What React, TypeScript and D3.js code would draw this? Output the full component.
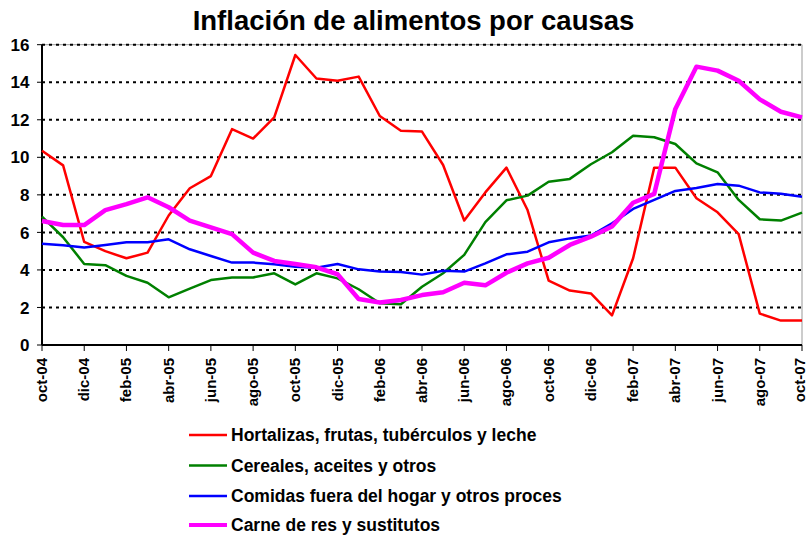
import React from "react";
import * as d3 from "d3";

const months = [
  "oct-04","nov-04","dic-04","ene-05","feb-05","mar-05","abr-05","may-05","jun-05","jul-05","ago-05","sep-05",
  "oct-05","nov-05","dic-05","ene-06","feb-06","mar-06","abr-06","may-06","jun-06","jul-06","ago-06","sep-06",
  "oct-06","nov-06","dic-06","ene-07","feb-07","mar-07","abr-07","may-07","jun-07","jul-07","ago-07","sep-07","oct-07",
];

const hortalizas = [
  10.35, 9.57, 5.49, 5.0, 4.62, 4.92, 6.9, 8.35, 9.0, 11.5, 11.0, 12.13,
  15.45, 14.2, 14.08, 14.3, 12.2, 11.42, 11.37, 9.59, 6.63, 8.13, 9.45, 7.19,
  3.43, 2.9, 2.75, 1.58, 4.62, 9.45, 9.45, 7.82, 7.07, 5.91, 1.67, 1.3, 1.3,
];
const cereales = [
  6.84, 5.74, 4.32, 4.25, 3.68, 3.32, 2.54, 3.0, 3.46, 3.6, 3.6, 3.82,
  3.23, 3.82, 3.55, 2.97, 2.22, 2.17, 3.1, 3.82, 4.8, 6.55, 7.71, 7.96,
  8.7, 8.85, 9.63, 10.27, 11.15, 11.07, 10.71, 9.68, 9.2, 7.73, 6.7, 6.63, 7.05,
];
const comidas = [
  5.4, 5.31, 5.19, 5.33, 5.47, 5.47, 5.63, 5.1, 4.74, 4.39, 4.39, 4.3,
  4.17, 4.12, 4.32, 4.03, 3.91, 3.89, 3.75, 3.96, 3.91, 4.35, 4.83, 4.97,
  5.47, 5.68, 5.83, 6.48, 7.25, 7.73, 8.21, 8.37, 8.58, 8.49, 8.13, 8.06, 7.9,
];
const carne = [
  6.61, 6.39, 6.39, 7.19, 7.51, 7.87, 7.34, 6.63, 6.27, 5.91, 4.92, 4.48,
  4.32, 4.14, 3.77, 2.45, 2.26, 2.4, 2.66, 2.81, 3.32, 3.18, 3.85, 4.35,
  4.65, 5.33, 5.77, 6.31, 7.58, 8.05, 12.58, 14.83, 14.62, 14.08, 13.09, 12.43, 12.13,
];

const yTicks = [0, 2, 4, 6, 8, 10, 12, 14, 16];

const seriesNames = [
  "Hortalizas, frutas, tubérculos y leche",
  "Cereales, aceites y otros",
  "Comidas fuera del hogar y otros proces",
  "Carne de res y sustitutos",
];
const seriesColors = ["#ff0000", "#008000", "#0000ff", "#ff00ff"];
const seriesWidths = [2.5, 2.5, 2.5, 4.5];
const seriesData = [hortalizas, cereales, comidas, carne];

const W = 808, H = 539;
const left = 42, right = 802, top = 44.7, bottom = 345;

export default function App() {
  const x = d3.scaleLinear().domain([0, months.length - 1]).range([left, right]);
  const y = d3.scaleLinear().domain([0, 16]).range([bottom, top]);
  const line = d3.line<number>().x((_, i) => x(i)).y((d) => y(d));
  const font = "'Liberation Sans', Arial, sans-serif";
  const drawOrder = [0, 1, 2, 3];
  const legendY = [435, 465.5, 496, 525];

  return (
    <svg width={W} height={H} style={{ position: "absolute", left: 0, top: 0, background: "#fff" }} fontFamily={font}>
      <rect x={0} y={0} width={W} height={H} fill="#fff" />
      <text x={413.5} y={29.5} textAnchor="middle" fontSize={27.5} fontWeight="bold" fill="#000">
        Inflación de alimentos por causas
      </text>
      {/* frame */}
      <line x1={left} x2={right} y1={top} y2={top} stroke="#999" strokeWidth={1} />
      <line x1={right} x2={right} y1={top} y2={bottom} stroke="#999" strokeWidth={1} />
      {/* gridlines */}
      {yTicks.filter((t) => t > 0).map((t) => (
        <line key={t} x1={left} x2={right} y1={y(t)} y2={y(t)} stroke="#000" strokeWidth={2} strokeDasharray="3,4" />
      ))}
      {/* y axis */}
      <line x1={left} x2={left} y1={top} y2={bottom} stroke="#000" strokeWidth={2} />
      {yTicks.map((t) => (
        <g key={t}>
          <line x1={left - 5} x2={left} y1={y(t)} y2={y(t)} stroke="#000" strokeWidth={1} />
          <text x={29.5} y={y(t)} dy="0.36em" textAnchor="end" fontSize={17} fontWeight="bold">{t}</text>
        </g>
      ))}
      {/* x axis */}
      <line x1={left} x2={right} y1={bottom} y2={bottom} stroke="#000" strokeWidth={2} />
      {months.map((m, i) =>
        i % 2 === 0 ? (
          <g key={m}>
            <line x1={x(i)} x2={x(i)} y1={bottom} y2={bottom + 6} stroke="#000" strokeWidth={1} />
            <text
              transform={`translate(${Math.min(x(i) + 5, 805)},${bottom + 13}) rotate(-90)`}
              textAnchor="end"
              fontSize={15}
              fontWeight="bold"
            >
              {m}
            </text>
          </g>
        ) : null
      )}
      {/* series */}
      {drawOrder.map((k) => (
        <path key={k} d={line(seriesData[k]) || ""} fill="none" stroke={seriesColors[k]} strokeWidth={seriesWidths[k]} strokeLinejoin="round" />
      ))}
      {/* legend */}
      {seriesNames.map((n, k) => {
        const ly = legendY[k];
        return (
          <g key={n}>
            <line x1={189} x2={227} y1={ly} y2={ly} stroke={seriesColors[k]} strokeWidth={k === 3 ? 4 : 2.5} />
            <text x={231} y={ly} dy="0.36em" fontSize={17.5} fontWeight="bold">{n}</text>
          </g>
        );
      })}
    </svg>
  );
}
